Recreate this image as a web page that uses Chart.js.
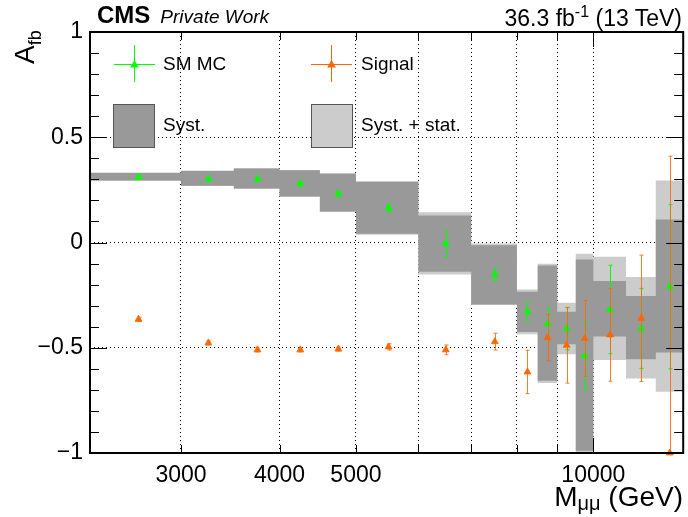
<!DOCTYPE html>
<html>
<head>
<meta charset="utf-8">
<script src="https://cdn.jsdelivr.net/npm/chart.js@4.4.1/dist/chart.umd.min.js"></script>
<style>
  body { margin: 0; background: #fff; }
  #wrap { position: relative; width: 688px; height: 517px; }
  .txt { position: absolute; line-height: 1; white-space: nowrap; color: #000;
         font-family: 'Liberation Sans', Arial, sans-serif; }
</style>
</head>
<body>
<div id="wrap">
  <canvas id="afbChart" width="688" height="517"></canvas>
  <div class="txt" style="left:97px;top:3px;font-size:24px;font-weight:bold">CMS<span style="font-size:19px;font-weight:normal;font-style:italic;margin-left:10px">Private Work</span></div>
  <div class="txt" style="right:6px;top:4px;font-size:23px">36.3 fb<span style="font-size:16px;vertical-align:9px">-1</span> (13 TeV)</div>
  <div class="txt" style="left:11px;top:64px;font-size:28px;transform-origin:left top;transform:rotate(-90deg)">A<span style="font-size:18px;vertical-align:-7px">fb</span></div>
  <div class="txt" style="right:5px;top:483px;font-size:28px">M<span style="font-size:20px;vertical-align:-4px">μμ</span> (GeV)</div>
  <div class="txt" style="left:163px;top:54px;font-size:19px">SM MC</div>
  <div class="txt" style="left:361px;top:54px;font-size:19px">Signal</div>
  <div class="txt" style="left:163px;top:115px;font-size:19px">Syst.</div>
  <div class="txt" style="left:361px;top:115px;font-size:19px">Syst. + stat.</div>
</div>
<script>
// bin edges and centres in M_mumu (GeV)
const binEdges = [2300, 3000, 3500, 4000, 4500, 5000, 6000, 7000, 8000, 8500, 9000, 9500, 10000, 11000, 12000, 13000];
const binCenters = [2650, 3250, 3750, 4250, 4750, 5500, 6500, 7500, 8250, 8750, 9250, 9750, 10500, 11500, 12500];

// SM MC
const smValues = [0.31, 0.302, 0.302, 0.28, 0.232, 0.164, -0.006, -0.153, -0.33, -0.387, -0.41, -0.539, -0.318, -0.408, -0.21];
const smErrors = [0.01, 0.01, 0.01, 0.012, 0.015, 0.02, 0.063, 0.03, 0.04, 0.075, 0.1, 0.16, 0.21, 0.19, 0.39];

// Signal
const sigValues = [-0.365, -0.477, -0.51, -0.51, -0.506, -0.496, -0.51, -0.471, -0.615, -0.452, -0.488, -0.456, -0.439, -0.36, -1.0];
const sigErrors = [0.01, 0.01, 0.01, 0.01, 0.01, 0.015, 0.023, 0.04, 0.103, 0.11, 0.18, 0.18, 0.22, 0.3, 1.41];

// systematic band (dark) and syst + stat band (light)
const systUp = [0.33, 0.34, 0.351, 0.343, 0.327, 0.288, 0.128, -0.013, -0.234, -0.109, -0.329, -0.081, -0.183, -0.254, 0.109];
const systDown = [0.295, 0.27, 0.257, 0.219, 0.147, 0.041, -0.139, -0.294, -0.425, -0.657, -0.483, -0.989, -0.447, -0.555, -0.523];
const totUp = [0.332, 0.342, 0.353, 0.345, 0.329, 0.292, 0.144, -0.005, -0.223, -0.101, -0.286, -0.054, -0.068, -0.164, 0.295];
const totDown = [0.293, 0.268, 0.255, 0.217, 0.145, 0.037, -0.152, -0.297, -0.436, -0.668, -0.531, -1.01, -0.558, -0.646, -0.709];

// axis ticks
const xGridValues = [3000, 4000, 5000, 6000, 7000, 8000, 9000, 10000];
const xTickLabels = [3000, 4000, 5000, 10000];
const yTickValues = [-1, -0.5, 0, 0.5, 1];

const GREEN = '#00ff00';
const ORANGE = '#ff6600';
const FONT = "'Liberation Sans', Arial, sans-serif";

// stepped band: one point per bin edge, last value repeated at the upper edge
function bandPoints(vals) {
    return binEdges.map((e, i) => ({ x: e, y: vals[Math.min(i, vals.length - 1)] }));
}

function markerPoints(vals) {
    return binCenters.map((c, i) => ({ x: c, y: vals[i] }));
}

// vertical error bars with small caps, drawn under the markers
const errorBars = {
    id: 'errorBars',
    beforeDatasetDraw(chart, args) {
        const ds = chart.data.datasets[args.index];
        if (!ds.errors) return;
        const { ctx, chartArea: a, scales: { x, y } } = chart;
        ctx.save();
        ctx.beginPath();
        ctx.rect(a.left, a.top, a.right - a.left, a.bottom - a.top);
        ctx.clip();
        ctx.strokeStyle = ds.errorColor;
        ctx.lineWidth = 1;
        ds.data.forEach((p, i) => {
            const px = Math.round(x.getPixelForValue(p.x)) + 0.5;
            const top = y.getPixelForValue(p.y + ds.errors[i]);
            const bot = y.getPixelForValue(p.y - ds.errors[i]);
            ctx.beginPath();
            ctx.moveTo(px, top);
            ctx.lineTo(px, bot);
            ctx.moveTo(px - 2, top);
            ctx.lineTo(px + 2, top);
            ctx.moveTo(px - 2, bot);
            ctx.lineTo(px + 2, bot);
            ctx.stroke();
        });
        ctx.restore();
    }
};

// frame and inward ticks (ROOT style)
const frameTicks = {
    id: 'frameTicks',
    afterDatasetsDraw(chart) {
        const { ctx, chartArea: a, scales: { x, y } } = chart;
        ctx.save();
        ctx.strokeStyle = '#000';
        ctx.lineWidth = 1;
        ctx.beginPath();
        for (let k = -9; k <= 9; k++) {
            const v = k / 10;
            const py = Math.round(y.getPixelForValue(v)) + 0.5;
            const len = k % 5 === 0 ? 17 : 9;
            ctx.moveTo(a.left, py); ctx.lineTo(a.left + len, py);
            ctx.moveTo(a.right - len, py); ctx.lineTo(a.right, py);
        }
        xGridValues.forEach(v => {
            const px = Math.round(x.getPixelForValue(v)) + 0.5;
            const len = v === 10000 ? 15 : 8;
            ctx.moveTo(px, a.bottom); ctx.lineTo(px, a.bottom - len);
            ctx.moveTo(px, a.top); ctx.lineTo(px, a.top + len);
        });
        ctx.stroke();
        ctx.lineWidth = 2;
        ctx.strokeRect(a.left, a.top, a.right - a.left, a.bottom - a.top);
        ctx.restore();
    }
};

function triangle(ctx, cx, cy, r, color) {
    ctx.fillStyle = color;
    ctx.beginPath();
    ctx.moveTo(cx, cy - r);
    ctx.lineTo(cx + r * 0.866, cy + r / 2);
    ctx.lineTo(cx - r * 0.866, cy + r / 2);
    ctx.closePath();
    ctx.fill();
}

// legend symbols (texts are html)
const legendSymbols = {
    id: 'legendSymbols',
    afterDraw(chart) {
        const ctx = chart.ctx;
        ctx.save();
        [[134, GREEN], [331, ORANGE]].forEach(([cx, col]) => {
            ctx.strokeStyle = col;
            ctx.lineWidth = 1;
            ctx.beginPath();
            ctx.moveTo(cx - 20, 64.5); ctx.lineTo(cx + 21, 64.5);
            ctx.moveTo(cx + 0.5, 45); ctx.lineTo(cx + 0.5, 82);
            ctx.stroke();
            triangle(ctx, cx + 0.5, 65, 5, col);
        });
        [[113, '#999999'], [311, '#cccccc']].forEach(([bx, col]) => {
            ctx.fillStyle = col;
            ctx.fillRect(bx, 104, 42, 44);
            ctx.strokeStyle = '#555';
            ctx.lineWidth = 1;
            ctx.strokeRect(bx + 0.5, 104.5, 41, 43);
        });
        ctx.restore();
    }
};

function createAfbChart() {
    const ctx = document.getElementById('afbChart');
    if (!ctx) return;

    new Chart(ctx, {
        type: 'line',
        data: {
            datasets: [{
                label: 'Signal',
                data: markerPoints(sigValues),
                errors: sigErrors,
                errorColor: 'rgba(255, 102, 0, 0.85)',
                showLine: false,
                clip: false,
                pointStyle: 'triangle',
                pointRadius: 4,
                pointBorderWidth: 0.8,
                pointBackgroundColor: ORANGE,
                pointBorderColor: ORANGE
            }, {
                label: 'SM MC',
                data: markerPoints(smValues),
                errors: smErrors,
                errorColor: GREEN,
                showLine: false,
                pointStyle: 'triangle',
                pointRadius: 4,
                pointBorderWidth: 0.8,
                pointBackgroundColor: GREEN,
                pointBorderColor: GREEN
            }, {
                label: 'Syst. up',
                data: bandPoints(systUp),
                stepped: true,
                borderWidth: 0,
                pointRadius: 0,
                backgroundColor: '#999999',
                fill: '+1'
            }, {
                label: 'Syst. down',
                data: bandPoints(systDown),
                stepped: true,
                borderWidth: 0,
                pointRadius: 0,
                fill: false
            }, {
                label: 'Syst. + stat. up',
                data: bandPoints(totUp),
                stepped: true,
                borderWidth: 0,
                pointRadius: 0,
                backgroundColor: '#cccccc',
                fill: '+1'
            }, {
                label: 'Syst. + stat. down',
                data: bandPoints(totDown),
                stepped: true,
                borderWidth: 0,
                pointRadius: 0,
                fill: false
            }]
        },
        options: {
            responsive: false,
            animation: false,
            layout: { padding: { top: 32, right: 3, left: 0, bottom: 0 } },
            plugins: {
                legend: { display: false },
                tooltip: { enabled: false },
                title: { display: false }
            },
            scales: {
                x: {
                    type: 'logarithmic',
                    min: 2300,
                    max: 13000,
                    afterBuildTicks: s => { s.ticks = xGridValues.map(v => ({ value: v })); },
                    afterFit: s => { s.height = 64; },
                    ticks: {
                        autoSkip: false,
                        maxRotation: 0,
                        padding: 9,
                        color: '#000',
                        font: { family: FONT, size: 23 },
                        callback: v => xTickLabels.includes(v) ? String(v) : ''
                    },
                    grid: { color: '#000', lineWidth: 1, drawTicks: false },
                    border: { display: false, dash: [1, 3] }
                },
                y: {
                    min: -1,
                    max: 1,
                    afterBuildTicks: s => { s.ticks = yTickValues.map(v => ({ value: v })); },
                    afterFit: s => { s.width = 90; },
                    ticks: {
                        padding: 7,
                        color: '#000',
                        font: { family: FONT, size: 23 },
                        callback: v => v < 0 ? '\u2212' + Math.abs(v) : String(v)
                    },
                    grid: { color: '#000', lineWidth: 1, drawTicks: false },
                    border: { display: false, dash: [1, 3] }
                }
            }
        },
        plugins: [errorBars, frameTicks, legendSymbols]
    });
}

createAfbChart();
</script>
</body>
</html>
